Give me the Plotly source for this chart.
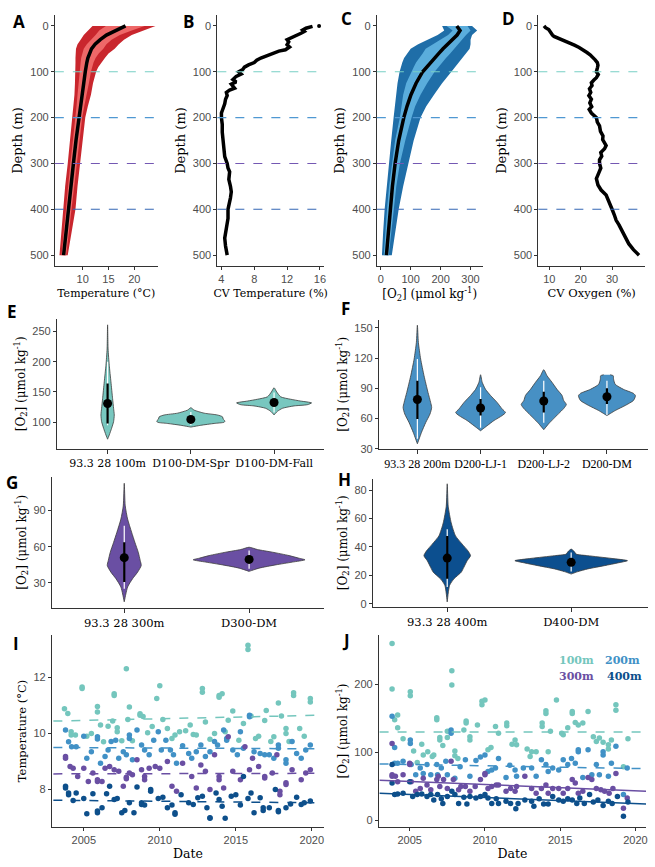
import plotly.graph_objects as go

# ---------------- DATA ----------------
depth = [0, 10, 20, 30, 40, 50, 60, 70, 80, 90, 100, 125, 150, 175, 200, 250, 300, 350, 400, 450, 500]
temp_mean = [18.3, 16.3, 14.6, 13.4, 12.4, 11.7, 11.3, 11.0, 10.8, 10.6, 10.5, 10.2, 9.9, 9.5, 9.2, 8.7, 8.2, 7.7, 7.25, 6.8, 6.3]
temp_min = [11.9, 11.0, 10.2, 9.6, 9.0, 8.7, 8.6, 8.6, 8.6, 8.6, 8.6, 8.5, 8.4, 8.2, 8.0, 7.6, 7.1, 6.6, 6.2, 5.8, 5.5]
temp_max = [24.1, 22.0, 19.5, 18.0, 17.0, 16.2, 15.0, 14.3, 13.6, 13.0, 12.6, 12.0, 11.6, 11.0, 10.5, 10.0, 9.5, 9.0, 8.6, 7.9, 7.1]
temp_lo = [14.5, 13.2, 12.5, 11.6, 10.8, 10.2, 9.9, 9.7, 9.6, 9.5, 9.4, 9.2, 9.0, 8.8, 8.6, 8.1, 7.6, 7.2, 6.7, 6.3, 5.9]
temp_hi = [22.0, 19.5, 17.2, 15.6, 14.6, 14.0, 13.1, 12.5, 12.1, 11.8, 11.6, 11.2, 10.8, 10.3, 9.9, 9.3, 8.8, 8.3, 7.8, 7.3, 6.8]

o2_mean = [254, 265, 255, 238, 222, 208, 194, 180, 166, 152, 140, 118, 101, 88, 77, 60, 48, 39, 32, 25, 19]
o2_min = [205, 212, 190, 155, 125, 100, 88, 78, 72, 67, 63, 56, 51, 47, 43, 35, 27, 19, 13, 8, 4]
o2_max = [305, 322, 305, 300, 300, 297, 285, 272, 260, 248, 236, 205, 178, 152, 133, 110, 92, 75, 60, 48, 37]
o2_lo = [220, 240, 225, 200, 175, 150, 140, 128, 118, 110, 103, 85, 75, 70, 64, 48, 37, 28, 21, 15, 10]
o2_hi = [290, 300, 285, 270, 258, 245, 232, 218, 205, 192, 180, 155, 133, 115, 103, 82, 64, 52, 43, 35, 27]

cvt_depth = [1, 5, 9, 12, 16, 20, 25, 30, 35, 41, 46, 52, 55, 60, 65, 70, 75, 80, 85, 90, 95, 100, 105, 110, 117, 122, 127, 131, 136, 140,
             145, 152, 160, 170, 182, 190, 200, 215, 232, 250, 268, 285, 300, 310, 318, 335, 350, 362, 375, 390, 400, 420, 448, 463, 480, 500]
cvt = [15.1, 14.3, 13.9, 14.1, 13.7, 13.2, 12.8, 12.0, 12.2, 12.0, 12.3, 11.8, 11.0, 10.3, 9.4, 8.8, 8.3, 8.0, 7.3, 6.8, 6.6, 6.1, 6.4, 5.8, 5.4, 5.8, 5.2, 5.4, 5.6, 5.0,
       4.6, 4.7, 4.5, 4.4, 4.2, 4.0, 4.0, 4.1, 4.1, 4.2, 4.2, 4.4, 4.7, 4.8, 5.0, 4.9, 5.1, 5.2, 5.1, 4.9, 4.8, 4.8, 4.6, 4.4, 4.5, 4.7]
cvt_surface_depth = [0]
cvt_surface = [15.9]

cvo_depth = [0, 4, 8, 12, 16, 20, 23, 27, 32, 37, 42, 47, 52, 58, 63, 68, 74, 80, 86, 92, 100, 106, 113, 118, 124, 130, 137, 145, 152, 160,
             168, 176, 182, 190, 200, 210, 218, 230, 240, 248, 256, 261, 268, 276, 284, 292, 300, 310, 320, 333, 347, 358, 369, 380, 392, 400,
             412, 424, 434, 446, 463, 475, 488, 500]
cvo = [8.3, 8.8, 9.8, 10.2, 10.4, 11.0, 11.5, 13.0, 15.0, 16.6, 18.0, 19.5, 20.8, 22.0, 23.0, 23.9, 24.6, 25.3, 25.5, 25.3, 25.0, 25.6, 25.0, 24.2, 23.4, 23.6, 22.8, 23.2, 22.6, 23.4,
       22.9, 23.5, 22.7, 23.4, 25.0, 25.3, 26.0, 26.3, 27.1, 27.0, 27.8, 28.1, 27.6, 26.4, 26.7, 26.0, 26.0, 26.4, 25.8, 25.0, 25.5, 26.5, 28.1, 28.7, 29.3, 30.0,
       30.7, 31.3, 32.2, 33.2, 34.4, 35.3, 36.8, 38.6]

hline_depths = [100, 200, 300, 400]

# Violins: density outline (value, half-width in category units), summary stats
e_cats = ["93.3 28 100m", "D100-DM-Spr", "D100-DM-Fall"]
e_vals = [[261, 221, 194, 167, 139, 123, 112, 101, 90, 79, 72],
          [124, 120, 115, 112, 109, 105, 102, 100, 98, 95, 92],
          [157, 150, 142, 138, 135, 132, 129, 127, 123, 118, 112]]
e_wid = [[0, 0.006, 0.02, 0.04, 0.06, 0.072, 0.08, 0.072, 0.048, 0.02, 0],
         [0, 0.04, 0.16, 0.32, 0.38, 0.39, 0.41, 0.40, 0.28, 0.12, 0],
         [0, 0.032, 0.08, 0.2, 0.32, 0.45, 0.4, 0.24, 0.1, 0.04, 0]]
e_mean = [131, 104.7, 132.7]
e_sd_lo = [98, 102, 130]
e_sd_hi = [164, 107, 135]
e_rng_lo = [95, 95, 116]
e_rng_hi = [200, 117, 149]

f_cats = ["93.3 28 200m", "D200-LJ-1", "D200-LJ-2", "D200-DM"]
f_vals = [[152.6, 135.5, 119, 102.5, 86, 76, 71, 64.6, 56, 46, 35],
          [103.5, 96, 89, 83, 76, 69.6, 66, 63, 58, 53, 48],
          [108.5, 102.5, 96, 89, 83, 78, 74, 70, 65, 60, 55, 49],
          [103.5, 102.5, 99, 94, 89, 85, 82.7, 78, 73, 68, 63]]
f_wid = [[0, 0.016, 0.052, 0.105, 0.168, 0.21, 0.226, 0.2, 0.131, 0.063, 0],
         [0, 0.026, 0.079, 0.157, 0.262, 0.341, 0.394, 0.341, 0.21, 0.105, 0],
         [0, 0.052, 0.131, 0.21, 0.289, 0.315, 0.357, 0.315, 0.236, 0.157, 0.079, 0],
         [0.052, 0.1, 0.105, 0.131, 0.262, 0.42, 0.451, 0.42, 0.289, 0.131, 0]]
f_mean = [79, 70.5, 77.5, 81.7]
f_sd_lo = [59.7, 63, 66, 74.5]
f_sd_hi = [97.6, 79.5, 86.7, 90]
f_rng_lo = [40, 51, 56, 63.6]
f_rng_hi = [119, 91, 97.6, 97.6]

g_cats = ["93.3 28 300m", "D300-DM"]
g_vals = [[112.5, 93.8, 82.9, 72, 63.7, 55.5, 48.6, 44.5, 39, 33.6, 26.7, 14.4],
          [59.6, 57.7, 55.5, 52.7, 50.5, 49.2, 47.3, 45, 42.3, 39.6]]
g_wid = [[0, 0.008, 0.027, 0.059, 0.085, 0.112, 0.128, 0.136, 0.107, 0.067, 0.027, 0],
         [0, 0.067, 0.187, 0.32, 0.4, 0.448, 0.347, 0.213, 0.08, 0]]
g_mean = [51, 49.5]
g_sd_lo = [30.8, 47.5]
g_sd_hi = [63.7, 51.5]
g_rng_lo = [25.3, 41.8]
g_rng_hi = [77.4, 56.8]

h_cats = ["93.3 28 400m", "D400-DM"]
h_vals = [[84.4, 68.6, 57, 47.8, 42, 37.3, 33.9, 30.4, 25.7, 22.3, 17.6, 13, 1.4],
          [38.5, 36.6, 35, 33.9, 32, 30.4, 28.8, 26.9, 24.6, 22.7, 21]]
h_wid = [[0, 0.008, 0.032, 0.067, 0.121, 0.167, 0.188, 0.161, 0.134, 0.113, 0.054, 0.019, 0],
         [0, 0.027, 0.04, 0.134, 0.323, 0.454, 0.376, 0.269, 0.134, 0.054, 0]]
h_mean = [32.2, 29.2]
h_sd_lo = [17.6, 27.5]
h_sd_hi = [47.8, 31]
h_rng_lo = [11.8, 22.7]
h_rng_hi = [52.4, 36.2]

# Time series, temperature (panel I)
i100_year = [2003.73, 2003.95, 2004.17, 2004.17, 2004.45, 2004.89, 2004.89, 2005.2, 2005.5, 2005.9, 2005.9, 2006.1, 2006.3, 2006.6, 2006.9, 2007.0, 2007.0, 2007.2, 2007.2, 2007.5,
             2007.8, 2007.9, 2008.0, 2008.2, 2008.7, 2008.7, 2008.9, 2009.2, 2009.5, 2009.8, 2010.0, 2010.2, 2010.5, 2010.8, 2011.0, 2011.3, 2011.7, 2012.0, 2012.2, 2012.4,
             2012.8, 2012.8, 2013.0, 2013.3, 2013.6, 2013.9, 2013.9, 2014.1, 2014.3, 2014.5, 2014.8, 2015.2, 2015.5, 2015.8, 2015.8, 2016.0, 2016.3, 2016.5, 2016.9, 2017.0,
             2017.3, 2017.5, 2017.8, 2018.0, 2018.3, 2018.3, 2018.5, 2018.8, 2018.8, 2019.2, 2019.5, 2019.9, 2019.9]
i100_val = [10.88, 10.71, 10.06, 9.94, 9.94, 11.65, 11.6, 9.9, 10.0, 10.96, 10.76, 10.3, 9.7, 10.26, 10.44, 11.41, 11.35, 10.2, 10.06, 9.74,
            12.3, 10.5, 10.94, 9.74, 10.7, 10.65, 10.6, 10.02, 10.25, 11.24, 11.7, 10.5, 10.18, 9.82, 9.94, 10.06, 10.1, 10.3, 9.96, 9.94,
            11.6, 11.47, 10.41, 9.79, 10.0, 11.35, 11.29, 11.41, 10.06, 10.47, 10.8, 9.76, 10.35, 13.14, 12.99, 10.62, 9.82, 9.9, 10.46, 10.82,
            9.71, 9.88, 11.08, 10.62, 10.18, 10.0, 9.71, 11.45, 11.35, 10.18, 9.9, 11.24, 11.12]
i200_year = [2003.8, 2004.0, 2004.2, 2004.5, 2005.0, 2005.2, 2005.5, 2005.9, 2005.9, 2006.1, 2006.4, 2006.6, 2006.8, 2007.1, 2007.3, 2007.6, 2007.8, 2008.0, 2008.0, 2008.2,
             2008.5, 2008.8, 2009.0, 2009.3, 2009.6, 2009.9, 2010.1, 2010.4, 2010.7, 2010.9, 2011.1, 2011.5, 2011.9, 2012.1, 2012.4, 2012.7, 2013.0, 2013.3, 2013.6, 2013.8,
             2014.2, 2014.4, 2014.4, 2014.8, 2015.1, 2015.3, 2015.5, 2015.9, 2015.9, 2016.2, 2016.6, 2016.9, 2017.2, 2017.5, 2017.8, 2017.8, 2018.3, 2018.3, 2018.7, 2019.0,
             2019.3, 2019.6, 2019.9]
i200_val = [10.12, 9.7, 9.53, 9.53, 9.9, 9.12, 9.35, 9.88, 9.8, 8.94, 9.18, 9.41, 9.71, 9.76, 9.12, 9.35, 9.24, 9.94, 9.82, 9.06,
            10.12, 9.59, 9.41, 9.24, 9.76, 10.06, 9.41, 9.76, 9.41, 9.24, 8.94, 9.56, 9.29, 9.12, 9.35, 9.59, 9.18, 9.35, 9.71, 9.59,
            10.12, 9.82, 9.76, 9.41, 9.24, 10.06, 9.47, 10.65, 10.59, 9.35, 9.29, 9.24, 9.24, 9.12, 9.59, 9.47, 9.06, 8.94, 9.71, 9.29,
            9.12, 9.41, 9.59]
i300_year = [2003.8, 2003.8, 2004.1, 2004.3, 2004.6, 2005.0, 2005.3, 2005.6, 2005.9, 2005.9, 2006.2, 2006.4, 2006.7, 2007.0, 2007.3, 2007.6, 2007.8, 2007.8, 2008.0, 2008.2,
             2008.5, 2008.8, 2009.0, 2009.0, 2009.3, 2009.7, 2010.0, 2010.5, 2010.8, 2011.1, 2011.5, 2012.1, 2012.4, 2012.7, 2013.0, 2013.3, 2013.6, 2013.9, 2013.9, 2014.2,
             2014.5, 2014.8, 2015.3, 2015.6, 2015.9, 2016.1, 2016.5, 2016.9, 2016.9, 2017.4, 2017.7, 2017.9, 2017.9, 2018.3, 2018.3, 2018.7, 2019.3, 2019.6, 2019.9]
i300_val = [9.18, 9.12, 8.82, 8.76, 8.47, 8.76, 8.29, 8.59, 8.35, 8.29, 8.29, 8.76, 8.82, 8.71, 8.65, 8.12, 8.44, 8.39, 8.59, 8.53,
            9.06, 8.71, 8.47, 8.35, 8.76, 8.82, 8.76, 9.0, 8.12, 7.94, 8.94, 8.47, 8.06, 8.88, 8.65, 8.0, 9.24, 8.47, 8.35, 8.06,
            9.88, 8.65, 8.35, 9.53, 8.71, 9.12, 8.82, 8.47, 8.41, 8.59, 9.24, 7.94, 7.82, 8.24, 8.18, 8.71, 8.35, 8.59, 8.71]
i400_year = [2003.8, 2003.8, 2004.0, 2004.0, 2004.3, 2004.5, 2005.0, 2005.2, 2005.6, 2005.9, 2005.9, 2006.2, 2006.5, 2006.7, 2007.0, 2007.2, 2007.5, 2007.7, 2008.0, 2008.3,
             2008.5, 2008.8, 2008.8, 2009.0, 2009.4, 2009.4, 2009.9, 2010.2, 2010.5, 2010.8, 2011.0, 2011.0, 2011.4, 2011.9, 2012.2, 2012.5, 2012.8, 2013.1, 2013.3, 2013.3,
             2013.7, 2013.9, 2014.1, 2014.3, 2014.7, 2015.0, 2015.3, 2015.5, 2015.8, 2016.0, 2016.2, 2016.6, 2016.8, 2016.8, 2017.2, 2017.6, 2017.8, 2017.8, 2018.3, 2018.6,
             2019.0, 2019.3, 2019.5, 2019.9]
i400_val = [8.12, 8.06, 7.88, 7.82, 7.61, 7.88, 7.68, 7.14, 7.85, 7.18, 7.24, 7.35, 7.85, 8.12, 7.65, 7.68, 7.18, 7.26, 7.53, 7.18,
            8.09, 7.47, 7.53, 7.45, 8.0, 7.94, 7.68, 7.73, 7.35, 7.45, 7.18, 7.12, 7.82, 7.53, 7.47, 7.71, 7.76, 7.35, 7.0, 6.98,
            7.88, 7.65, 7.41, 6.98, 7.76, 7.82, 7.45, 8.47, 7.68, 7.88, 7.18, 7.71, 7.35, 7.26, 7.35, 8.0, 7.26, 7.21, 7.35, 7.49,
            7.73, 7.47, 7.53, 7.59]

# Time series, oxygen (panel J)
j100_year = [2003.83, 2003.83, 2004.0, 2004.2, 2004.2, 2004.56, 2005.04, 2005.04, 2005.26, 2005.5, 2005.8, 2005.9, 2006.2, 2006.5, 2006.6, 2006.8, 2006.8, 2007.0, 2007.0, 2007.2,
             2007.5, 2007.5, 2007.8, 2007.8, 2008.0, 2008.0, 2008.2, 2008.6, 2008.75, 2008.75, 2009.0, 2009.0, 2009.5, 2009.8, 2009.8, 2010.0, 2010.2, 2010.4, 2010.7, 2010.9,
             2011.45, 2011.45, 2011.8, 2012.0, 2012.1, 2012.8, 2013.0, 2013.1, 2013.4, 2013.8, 2013.8, 2014.05, 2014.05, 2014.2, 2014.35, 2014.75, 2015.1, 2015.2, 2015.5, 2015.8,
             2015.8, 2016.0, 2016.2, 2016.5, 2016.85, 2017.2, 2017.4, 2017.6, 2017.85, 2018.2, 2018.2, 2018.4, 2018.7, 2018.7, 2019.2, 2019.5]
j100_val = [260, 193, 148, 155, 136, 120, 189, 183, 102, 85, 112, 96, 101, 94, 96, 151, 148, 122, 118, 110,
            131, 122, 220, 199, 102, 95, 91, 133, 146, 143, 123, 118, 140, 175, 170, 177, 104, 107, 138, 128,
            143, 139, 112, 118, 111, 105, 94, 101, 101, 143, 138, 161, 157, 101, 131, 177, 128, 126, 136, 160,
            157, 144, 140, 143, 160, 123, 116, 121, 115, 111, 105, 118, 170, 162, 79, 120]
j200_year = [2003.83, 2004.0, 2004.0, 2004.2, 2004.56, 2005.04, 2005.04, 2005.1, 2005.4, 2005.7, 2005.9, 2006.15, 2006.4, 2006.8, 2006.85, 2007.1, 2007.4, 2007.5, 2007.75, 2007.75,
             2008.0, 2008.35, 2008.7, 2009.0, 2009.4, 2009.7, 2010.0, 2010.2, 2010.45, 2010.7, 2010.9, 2011.4, 2011.65, 2012.0, 2012.1, 2012.55, 2013.1, 2013.4, 2013.75, 2014.05,
             2014.2, 2014.5, 2014.9, 2015.2, 2015.5, 2015.75, 2016.0, 2016.2, 2016.2, 2016.5, 2016.85, 2017.1, 2017.4, 2017.6, 2017.85, 2017.85, 2018.2, 2018.4, 2018.7, 2019.2,
             2019.45]
j200_val = [153, 107, 84, 84, 87, 118, 113, 82, 67, 77, 69, 82, 67, 82, 67, 77, 87, 67, 133, 128,
            62, 79, 89, 65, 88, 93, 96, 72, 74, 77, 91, 63, 81, 74, 65, 77, 77, 65, 89, 82,
            72, 77, 74, 89, 82, 91, 84, 104, 101, 63, 104, 67, 82, 67, 101, 96, 65, 84, 109, 38,
            77]
j300_year = [2003.83, 2003.83, 2003.83, 2004.05, 2004.2, 2004.56, 2005.0, 2005.0, 2005.1, 2005.4, 2005.7, 2005.9, 2006.15, 2006.4, 2006.8, 2006.9, 2007.0, 2007.25, 2007.5, 2007.75,
             2007.9, 2008.25, 2008.4, 2008.7, 2009.0, 2009.35, 2009.7, 2010.0, 2010.0, 2010.2, 2010.45, 2010.75, 2010.9, 2011.4, 2011.7, 2012.0, 2012.1, 2012.65, 2013.1, 2013.4,
             2013.75, 2014.05, 2014.2, 2014.5, 2014.9, 2015.2, 2015.5, 2015.8, 2016.0, 2016.2, 2016.5, 2016.85, 2017.1, 2017.4, 2017.7, 2017.95, 2018.25, 2018.5, 2018.7, 2019.2,
             2019.45]
j300_val = [113, 67, 65, 65, 57, 67, 84, 82, 57, 43, 47, 62, 52, 45, 60, 65, 50, 60, 47, 87,
            60, 45, 50, 50, 43, 50, 60, 69, 67, 47, 50, 52, 52, 43, 47, 43, 50, 65, 47, 40,
            47, 52, 40, 47, 47, 40, 47, 60, 55, 40, 43, 63, 60, 47, 45, 43, 40, 47, 69, 18,
            33]
j400_year = [2003.83, 2003.83, 2004.0, 2004.2, 2004.56, 2005.0, 2005.2, 2005.5, 2005.8, 2006.15, 2006.4, 2006.6, 2006.85, 2007.1, 2007.2, 2007.5, 2007.8, 2008.0, 2008.25, 2008.6,
             2008.8, 2009.0, 2009.4, 2009.7, 2010.0, 2010.2, 2010.45, 2010.75, 2010.9, 2011.4, 2011.7, 2012.05, 2012.2, 2012.65, 2013.1, 2013.25, 2013.6, 2013.9, 2014.2, 2014.5,
             2014.9, 2015.2, 2015.5, 2015.8, 2016.1, 2016.3, 2016.6, 2016.95, 2017.2, 2017.5, 2017.85, 2018.2, 2018.45, 2018.8, 2019.2, 2019.5]
j400_val = [82, 55, 38, 39, 40, 57, 35, 38, 39, 35, 38, 30, 38, 32, 25, 35, 43, 38, 25, 34,
            24, 35, 33, 35, 38, 33, 25, 32, 25, 28, 25, 17, 25, 30, 28, 21, 32, 24, 24, 35,
            30, 28, 32, 30, 25, 33, 25, 38, 27, 30, 22, 28, 25, 35, 6, 27]

trend_year = [2003.0, 2020.7]
i_trend = {"100m": [10.44, 10.65], "200m": [9.5, 9.45], "300m": [8.56, 8.58], "400m": [7.62, 7.53]}
j_trend = {"100m": [130, 130], "200m": [83, 76], "300m": [59, 43], "400m": [40, 24]}
depth_labels = ["100m", "200m", "300m", "400m"]

# ---------------- STYLE ----------------
W, H = 655, 867
TEAL, BLUE, PURPLE, DKBLUE = "#74c6bd", "#4191c6", "#6a4fa3", "#0d4f8b"
SER_COL = {"100m": TEAL, "200m": BLUE, "300m": PURPLE, "400m": DKBLUE}
HL_COL = ["#78d0c5", "#4f98d2", "#7458b3", "#3567b5"]
SERIF = "DejaVu Serif"
SANS = "Liberation Sans, Arial"


def xd(a, b):
    return [a / W, b / W]


def yd(top, bottom):
    return [1 - bottom / H, 1 - top / H]


def tfont(size):
    return dict(family=SERIF, size=size, color="black")


def base_axis(**kw):
    d = dict(showline=True, linecolor="#333333", linewidth=1, ticks="outside", ticklen=3,
             tickcolor="#333333", tickfont=dict(family=SANS, size=11, color="#4d4d4d"),
             showgrid=False, zeroline=False)
    d.update(kw)
    return d


fig = go.Figure()
layout_axes = {}


def ax_names(k):
    return ("x" if k == 1 else f"x{k}"), ("y" if k == 1 else f"y{k}")


O2_TITLE = "[O<sub>2</sub>] (μmol kg<sup>-1</sup>)"

# ---- Top row profiles ----
top_dom_y = yd(15, 268)
prof_specs = [
    (1, xd(55, 158), [4.6, 24.5], [10, 15, 20], "Temperature (°C)", 11),
    (2, xd(218, 325), [3.5, 16.5], [4, 8, 12, 16], "CV Temperature (%)", 11),
    (3, xd(378, 484), [-13, 340], [0, 100, 200, 300], O2_TITLE, 12),
    (4, xd(540, 647), [6.5, 40.5], [10, 20, 30], "CV Oxygen (%)", 11.5),
]
for k, dom, rng, tv, title, tsz in prof_specs:
    xn, yn = ax_names(k)
    layout_axes["xaxis" if k == 1 else f"xaxis{k}"] = base_axis(
        domain=dom, range=rng, tickvals=tv, anchor=yn,
        title=dict(text=title, standoff=4, font=tfont(tsz)))
    layout_axes["yaxis" if k == 1 else f"yaxis{k}"] = base_axis(
        domain=top_dom_y, range=[524, -24], tickvals=[0, 100, 200, 300, 400, 500], anchor=xn,
        title=dict(text="Depth (m)", standoff=4, font=tfont(13)))


def band(xlo, xhi, color, xa, ya):
    fig.add_trace(go.Scatter(x=xlo + xhi[::-1], y=depth + depth[::-1], fill="toself",
                             fillcolor=color, line=dict(width=0), mode="lines",
                             xaxis=xa, yaxis=ya, hoverinfo="skip", showlegend=False))


band(temp_min, temp_max, "#c9262d", "x", "y")
band(temp_lo, temp_hi, "#ee6868", "x", "y")
fig.add_trace(go.Scatter(x=temp_mean, y=depth, mode="lines", line=dict(color="black", width=3.5),
                         xaxis="x", yaxis="y", showlegend=False))
fig.add_trace(go.Scatter(x=cvt, y=cvt_depth, mode="lines", line=dict(color="black", width=3.5),
                         xaxis="x2", yaxis="y2", showlegend=False))
fig.add_trace(go.Scatter(x=cvt_surface, y=cvt_surface_depth, mode="markers",
                         marker=dict(color="black", size=4), xaxis="x2", yaxis="y2", showlegend=False))
band(o2_min, o2_max, "#1f6ea8", "x3", "y3")
band(o2_lo, o2_hi, "#5aaddc", "x3", "y3")
fig.add_trace(go.Scatter(x=o2_mean, y=depth, mode="lines", line=dict(color="black", width=3.5),
                         xaxis="x3", yaxis="y3", showlegend=False))
fig.add_trace(go.Scatter(x=cvo, y=cvo_depth, mode="lines", line=dict(color="black", width=3.5),
                         xaxis="x4", yaxis="y4", showlegend=False))

shapes = []
for k in range(1, 5):
    xn, yn = ax_names(k)
    for d, c in zip(hline_depths, HL_COL):
        shapes.append(dict(type="line", xref=f"{xn} domain", yref=yn, x0=0, x1=1, y0=d, y1=d,
                           line=dict(color=c, width=1.1, dash="dash"), layer="above"))

# ---- Violins ----
viol_specs = [
    (5, xd(57, 325), yd(321, 452), [-0.61, 2.6], [56, 271], [100, 150, 200, 250], e_cats,
     e_vals, e_wid, e_mean, e_sd_lo, e_sd_hi, e_rng_lo, e_rng_hi, "#78c7bf",
     dict(family=SERIF, size=11, color="black")),
    (6, xd(380, 650), yd(322, 452), [-0.61, 3.65], [30, 158], [30, 60, 90, 120, 150], f_cats,
     f_vals, f_wid, f_mean, f_sd_lo, f_sd_hi, f_rng_lo, f_rng_hi, "#4790c4",
     dict(family="Liberation Serif", size=12, color="black")),
    (7, xd(52, 325), yd(480, 612), [-0.58, 1.6], [9.5, 118], [30, 60, 90], g_cats,
     g_vals, g_wid, g_mean, g_sd_lo, g_sd_hi, g_rng_lo, g_rng_hi, "#6a4fa3",
     dict(family=SERIF, size=11.5, color="black")),
    (8, xd(374, 650), yd(482, 611), [-0.6, 1.62], [-2, 88], [0, 20, 40, 60, 80], h_cats,
     h_vals, h_wid, h_mean, h_sd_lo, h_sd_hi, h_rng_lo, h_rng_hi, "#0c4f8f",
     dict(family=SERIF, size=11.5, color="black")),
]
for (k, dx, dy, xr, yr, ytv, cats, vals, wids, means, sdl, sdh, rl, rh, col, catfont) in viol_specs:
    xn, yn = ax_names(k)
    layout_axes[f"xaxis{k}"] = base_axis(
        domain=dx, range=xr, tickvals=list(range(len(cats))), ticktext=cats, anchor=yn,
        tickfont=catfont, ticklen=4, tickangle=0)
    layout_axes[f"yaxis{k}"] = base_axis(
        domain=dy, range=yr, tickvals=ytv, anchor=xn,
        title=dict(text=O2_TITLE, standoff=4, font=tfont(12)))
    for i in range(len(cats)):
        v, w = vals[i], wids[i]
        xs = [i - a for a in w] + [i + a for a in w[::-1]]
        ys = v + v[::-1]
        fig.add_trace(go.Scatter(x=xs, y=ys, fill="toself", fillcolor=col, mode="lines",
                                 line=dict(color="#3c3c3c", width=0.8, shape="spline", smoothing=0.6),
                                 xaxis=xn, yaxis=yn, showlegend=False, hoverinfo="skip"))
        fig.add_trace(go.Scatter(x=[i, i], y=[rl[i], rh[i]], mode="lines",
                                 line=dict(color="white", width=1.2), xaxis=xn, yaxis=yn, showlegend=False))
        fig.add_trace(go.Scatter(x=[i, i], y=[sdl[i], sdh[i]], mode="lines",
                                 line=dict(color="black", width=2.2), xaxis=xn, yaxis=yn, showlegend=False))
        fig.add_trace(go.Scatter(x=[i], y=[means[i]], mode="markers",
                                 marker=dict(color="black", size=9), xaxis=xn, yaxis=yn, showlegend=False))

# ---- Time series ----
ts_specs = [
    (9, xd(52, 325), [2002.9, 2020.8], [6.66, 13.52], [8, 10, 12], "Temperature (°C)", 11.5,
     {"100m": (i100_year, i100_val), "200m": (i200_year, i200_val),
      "300m": (i300_year, i300_val), "400m": (i400_year, i400_val)},
     i_trend, {"100m": "dash", "200m": "dash", "300m": "dash", "400m": "dash"}),
    (10, xd(380, 648), [2002.95, 2020.7], [-10, 273], [0, 100, 200], O2_TITLE, 12,
     {"100m": (j100_year, j100_val), "200m": (j200_year, j200_val),
      "300m": (j300_year, j300_val), "400m": (j400_year, j400_val)},
     j_trend, {"100m": "dash", "200m": "dash", "300m": "solid", "400m": "solid"}),
]
for (k, dx, xr, yr, ytv, ytitle, ytsz, series, trend, dashes) in ts_specs:
    xn, yn = ax_names(k)
    layout_axes[f"xaxis{k}"] = base_axis(
        domain=dx, range=xr, tickvals=[2005, 2010, 2015, 2020], anchor=yn,
        title=dict(text="Date", standoff=3, font=tfont(12.5)))
    layout_axes[f"yaxis{k}"] = base_axis(
        domain=yd(639, 833), range=yr, tickvals=ytv, anchor=xn,
        title=dict(text=ytitle, standoff=4, font=tfont(ytsz)))
    for lab in depth_labels:
        yrs, vv = series[lab]
        fig.add_trace(go.Scatter(x=yrs, y=vv, mode="markers",
                                 marker=dict(color=SER_COL[lab], size=5.5),
                                 xaxis=xn, yaxis=yn, showlegend=False))
    for lab in depth_labels:
        fig.add_trace(go.Scatter(x=trend_year, y=trend[lab], mode="lines",
                                 line=dict(color=SER_COL[lab], width=1.5, dash=dashes[lab]),
                                 xaxis=xn, yaxis=yn, showlegend=False))

# ---- Annotations ----
annotations = []
letters = [("A", 19, 22), ("B", 189, 22), ("C", 348, 19), ("D", 510, 19),
           ("E", 12, 314), ("F", 347, 311), ("G", 12, 486), ("H", 346, 483),
           ("I", 16, 648), ("J", 347, 645)]
for t, px, py in letters:
    annotations.append(dict(text=f"<b>{t}</b>", x=px / W, y=1 - py / H, xref="paper", yref="paper",
                            showarrow=False, xanchor="center", yanchor="middle",
                            font=dict(family="Open Sans, Liberation Sans", size=17, color="black")))
legend_pos = {"100m": (578, 665), "200m": (624, 665), "300m": (578, 681), "400m": (626, 681)}
for lab in depth_labels:
    px, py = legend_pos[lab]
    annotations.append(dict(text=f"<b>{lab}</b>", x=px / W, y=1 - py / H, xref="paper", yref="paper",
                            showarrow=False, xanchor="center", yanchor="middle",
                            font=dict(family=SERIF, size=11, color=SER_COL[lab])))

fig.update_layout(width=W, height=H, margin=dict(l=0, r=0, t=0, b=0),
                  plot_bgcolor="white", paper_bgcolor="white", showlegend=False,
                  shapes=shapes, annotations=annotations, **layout_axes)

fig.write_html("out.html", config={"displayModeBar": False},
               post_script="document.body.style.margin='0';")
